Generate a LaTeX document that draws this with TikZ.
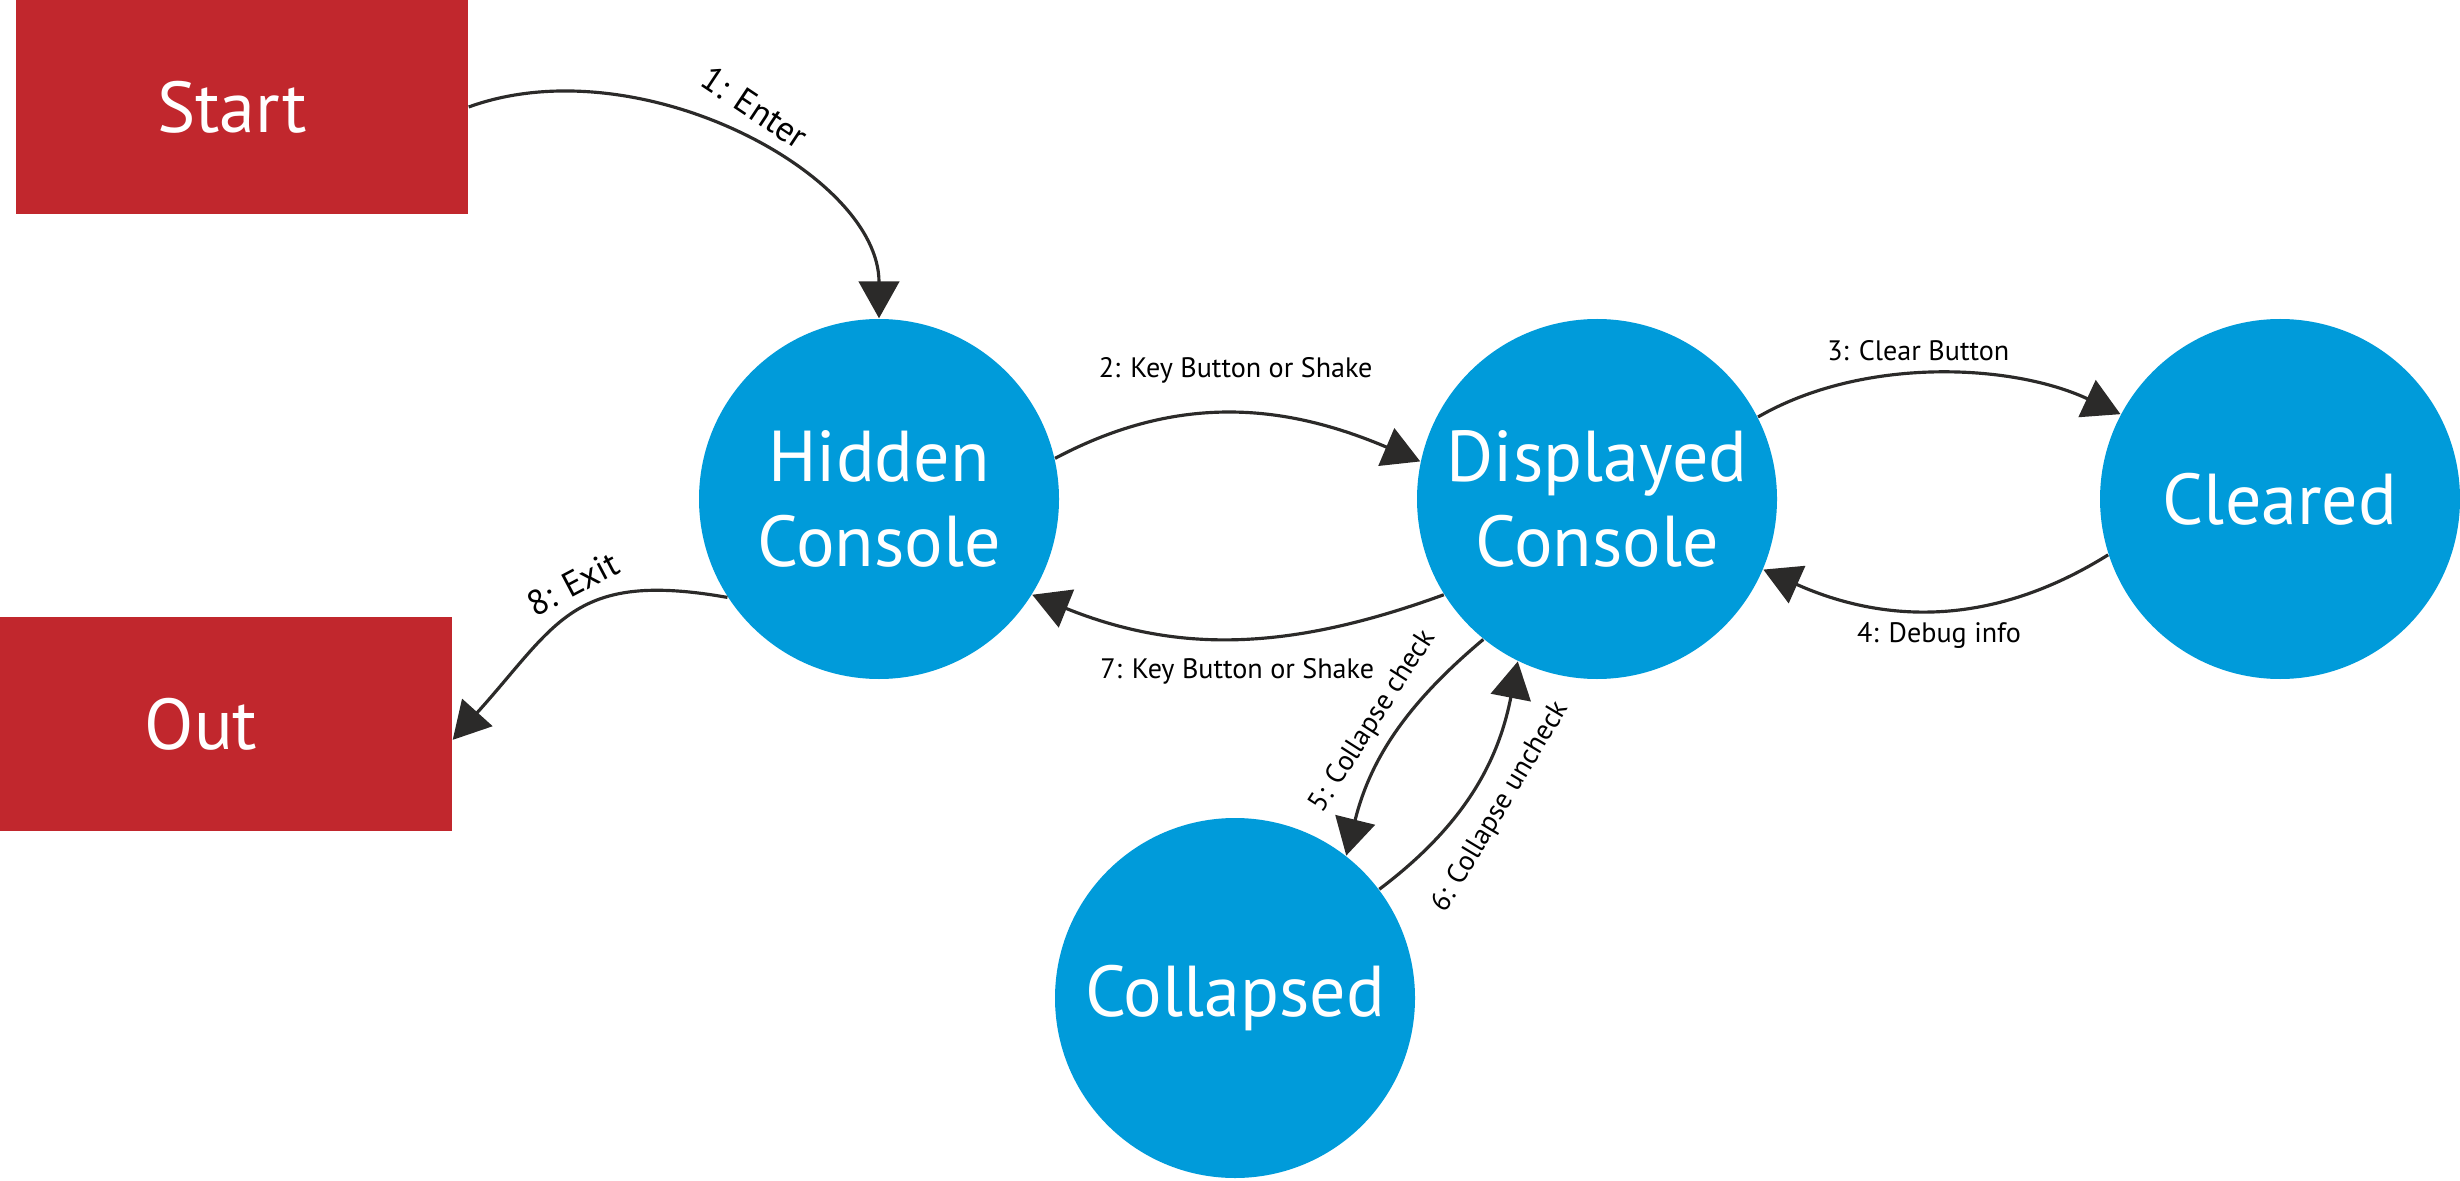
\documentclass[tikz,border=0pt]{standalone}
\usepackage{fontspec}
\setmainfont{PT Sans}
\usepackage{tikz}
\usetikzlibrary{positioning,arrows.meta}
\definecolor{boxred}{HTML}{C1272D}
\definecolor{stateblue}{HTML}{009BDA}
\definecolor{arrowgray}{HTML}{2B2A29}
\tikzstyle{state} = [circle, fill=stateblue, minimum size=3.6cm, inner sep=0pt, text=white, align=center, font=\fontsize{20.5}{24}\selectfont]
\tikzstyle{terminal} = [rectangle, fill=boxred, minimum width=4.52cm, minimum height=2.134cm, text=white, font=\fontsize{20.5}{24}\selectfont]
\tikzstyle{connect} = [line width=0.9pt, draw=arrowgray, -{Triangle[length=10.5pt,width=11.5pt]}]
\tikzstyle{lbl} = [font=\fontsize{8}{9.6}\selectfont, text=black]
\tikzstyle{biglbl} = [font=\fontsize{10}{12}\selectfont, text=black]

\begin{document}
\begin{tikzpicture}[node distance=1cm]
			\useasboundingbox (0,0) rectangle (24.6,11.8);

			\node (hidden) [state] at (8.79,6.81) {Hidden\\Console};
			\node (displayed) [state, right of=hidden, xshift=6.18cm] {Displayed\\Console};
			\node (cleared) [state, right of=displayed, xshift=5.83cm] {Cleared};
			\node (collapsed) [state, below of=hidden, xshift=3.56cm, yshift=-3.99cm] {Collapsed};
			\node (start) [terminal, left of=hidden, xshift=-5.37cm, yshift=3.92cm] {\hspace*{-0.2cm}Start};
			\node (out) [terminal, below of=start, xshift=-0.16cm, yshift=-5.17cm] {\hspace*{-0.5cm}Out};

			\draw[connect] (start.east) to[out=20, in=90, in looseness=0.8] node[biglbl, pos=0.5, sloped, rotate=-6, above=2pt] {1: Enter} (hidden.north);
			\draw[connect] (hidden.13) to[out=28, in=157] node[lbl, above=5pt] {2: Key Button or Shake} (displayed.168);
			\draw[connect] (displayed.27) to[out=30, in=155, looseness=0.85] node[lbl, pos=0.45, above] {3: Clear Button} (cleared.152);
			\draw[connect] (cleared.198) to[out=212, in=-24] node[lbl, below] {4: Debug info} (displayed.-23);
			\draw[connect] (displayed.231) to[out=220, in=76] node[lbl, pos=0.5, sloped, above] {5: Collapse check} (collapsed.52);
			\draw[connect] (collapsed.37) to[out=37, in=259] node[lbl, pos=0.5, sloped, below=2pt] {6: Collapse uncheck} (displayed.244);
			\draw[connect] (displayed.212) to[out=200, in=-22] node[lbl, below=2pt] {7: Key Button or Shake} (hidden.-32);
			\draw[connect] (hidden.213) to[out=170, in=48, looseness=1.3] node[biglbl, pos=0.44, sloped, above] {8: Exit} (out.-4);

\end{tikzpicture}
\end{document}
